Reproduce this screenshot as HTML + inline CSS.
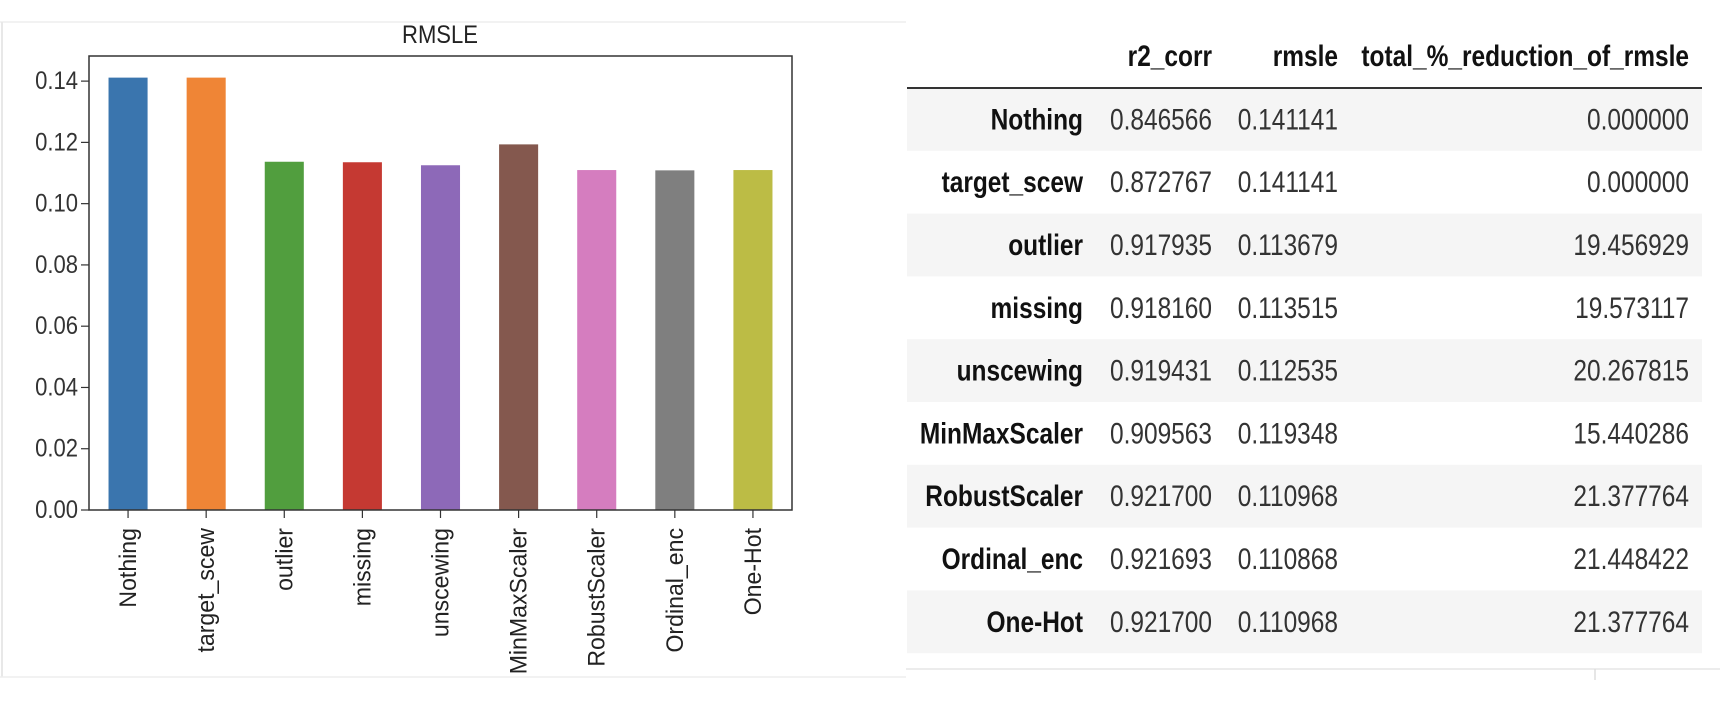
<!DOCTYPE html>
<html><head><meta charset="utf-8"><style>
html,body{margin:0;padding:0;background:#fff;}
svg{display:block;font-family:"Liberation Sans",sans-serif;}
</style></head><body>
<svg width="1720" height="708" viewBox="0 0 1720 708">
  <g id="panel">
    <line x1="0" y1="22" x2="906" y2="22" stroke="#eeeeee" stroke-width="1.5"/>
    <line x1="2" y1="22" x2="2" y2="677" stroke="#e8e8e8" stroke-width="2"/>
    <line x1="0" y1="677" x2="906" y2="677" stroke="#eeeeee" stroke-width="1.5"/>
    <text x="0" y="0" font-size="21" text-anchor="middle" fill="#222" transform="translate(440,43) scale(1.05,1.2)">RMSLE</text>
  </g>
  <g id="chart"></g>
  <g id="table"></g>
</svg>
<script>
const categories = ["Nothing","target_scew","outlier","missing","unscewing","MinMaxScaler","RobustScaler","Ordinal_enc","One-Hot"];
const rmsleValues = [0.141141,0.141141,0.113679,0.113515,0.112535,0.119348,0.110968,0.110868,0.110968];
const r2Values = ["0.846566","0.872767","0.917935","0.918160","0.919431","0.909563","0.921700","0.921693","0.921700"];
const rmsleLabels = ["0.141141","0.141141","0.113679","0.113515","0.112535","0.119348","0.110968","0.110868","0.110968"];
const reductionLabels = ["0.000000","0.000000","19.456929","19.573117","20.267815","15.440286","21.377764","21.448422","21.377764"];
const yTicks = [0,0.02,0.04,0.06,0.08,0.10,0.12,0.14];
const yTickLabels = ["0.00","0.02","0.04","0.06","0.08","0.10","0.12","0.14"];
const barColors = ["#3a75ae","#ef8536","#519e3e","#c53932","#8d69b8","#84584e","#d57dbf","#7f7f7f","#bcbc45"];

const NS="http://www.w3.org/2000/svg";
function mk(tag,attrs,parent){const e=document.createElementNS(NS,tag);for(const k in attrs)e.setAttribute(k,attrs[k]);parent.appendChild(e);return e;}

const L=89,R=792,T=56,B=510;
const yMax=Math.max(...rmsleValues)*1.05;
const yScale=v=>B-(v/yMax)*(B-T);
const step=(R-L)/categories.length;
const xScale=i=>L+step*(i+0.5);
const chart=document.getElementById('chart');

yTicks.forEach((t,i)=>{
  const y=yScale(t);
  const tk=mk('line',{x1:L-8,y1:y,x2:L,y2:y,stroke:'#333','stroke-width':1.2},chart);
  
  
  const lb=mk('text',{x:0,y:0,'font-size':21,'text-anchor':'end',fill:'#333',transform:`translate(${L-11},${y+8}) scale(1.05,1.2)`},chart);
  lb.textContent=yTickLabels[i];
  
  
});
categories.forEach((c,i)=>{
  const cx=xScale(i),w=step*0.5,y=yScale(rmsleValues[i]);
  const bar=mk('rect',{x:cx-w/2,y:y,width:w,height:B-y,fill:barColors[i]},chart);
  
  
  const tk=mk('line',{x1:cx,y1:B,x2:cx,y2:B+8,stroke:'#333','stroke-width':1.2},chart);
  
  
  const lb=mk('text',{x:0,y:0,'font-size':21,'text-anchor':'end',fill:'#222',transform:`translate(${cx+8},${B+18}) rotate(-90) scale(1.1,1.15)`},chart);
  lb.textContent=c;
  
  
});
const frame=mk('rect',{x:L,y:T,width:R-L,height:B-T,fill:'none',stroke:'#333','stroke-width':1.5},chart);



// table
const tbl=document.getElementById('table');
const TL=907,TR=1702,rowTop=88,rowH=62.8;
const colRight=[1083,1212,1338,1689];
function txt(x,y,s,bold,name){
  const t=mk('text',{x:0,y:0,'font-size':24,'text-anchor':'end',fill:bold?'#111':'#333','font-weight':bold?'bold':'normal',transform:`translate(${x},${y}) scale(1.02,1.22)`},tbl);
  t.textContent=s;
  
  
}
txt(colRight[1],66,"r2_corr",true,'header-r2-corr');
txt(colRight[2],66,"rmsle",true,'header-rmsle');
txt(colRight[3],66,"total_%_reduction_of_rmsle",true,'header-total-reduction');
categories.forEach((c,i)=>{
  const top=rowTop+i*rowH;
  if(i%2===0){
    const bg=mk('rect',{x:TL,y:top,width:TR-TL,height:rowH,fill:'#f5f5f5'},tbl);
    
    
  }
  const by=top+rowH/2+10;
  txt(colRight[0],by,c,true,'row-label');
  txt(colRight[1],by,r2Values[i],false,'cell-r2-corr');
  txt(colRight[2],by,rmsleLabels[i],false,'cell-rmsle');
  txt(colRight[3],by,reductionLabels[i],false,'cell-total-reduction');
});
const hl=mk('line',{x1:TL,y1:88,x2:TR,y2:88,stroke:'#333','stroke-width':2},tbl);


const bl=mk('line',{x1:906,y1:669,x2:1720,y2:669,stroke:'#e6e6e6','stroke-width':1.5},tbl);


const bt=mk('line',{x1:1595,y1:669,x2:1595,y2:680,stroke:'#ddd','stroke-width':1.5},tbl);


</script>
</body></html>
